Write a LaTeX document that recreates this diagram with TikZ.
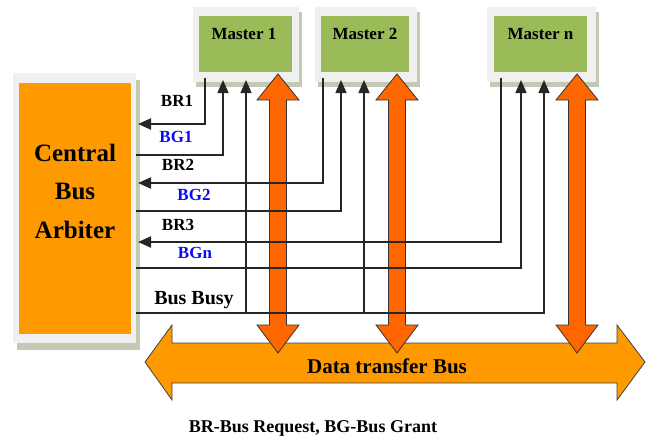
\documentclass[tikz,border=0pt]{standalone}
\usepackage{fontspec}
\setmainfont{Liberation Serif}
\usetikzlibrary{arrows.meta}
\definecolor{arbiterorange}{HTML}{FF9900}
\definecolor{mastergreen}{HTML}{9BBB59}
\definecolor{linkorange}{HTML}{FF6600}
\definecolor{framegray}{HTML}{F0F0F0}
\definecolor{shadowolive}{HTML}{C3C9B3}
\definecolor{grantblue}{HTML}{0A0AF5}

\begin{document}
\begin{tikzpicture}[x=1pt,y=-1pt,
  frame/.style={fill=framegray},
  shadowbox/.style={fill=shadowolive},
  mbox/.style={fill=mastergreen, minimum height=56pt, inner sep=0pt},
  mtext/.style={font=\fontsize{17}{18}\selectfont\bfseries, inner sep=0pt},
  sig/.style={line width=1.4pt, draw=black!85},
  reqline/.style={sig, line width=2pt},
  tip/.style={-{Triangle[length=13pt,width=11pt]}},
  lbl/.style={font=\fontsize{17}{18}\selectfont\bfseries, inner sep=0pt},
  grant/.style={lbl, text=grantblue},
  busarrow/.style={fill=arbiterorange, draw=black!75, line width=0.8pt},
  linkarrow/.style={fill=linkorange, draw=black!80, line width=0.8pt}]
\useasboundingbox (0,0) rectangle (648,439);

% --- frames with drop shadows
\fill[shadowbox] (17,80) rectangle (140,350);
\fill[frame] (13,73) rectangle (136,343);
\fill[shadowbox] (196,12) rectangle (302,87);
\fill[frame] (193,7) rectangle (299,82);
\fill[shadowbox] (318,12) rectangle (420,87);
\fill[frame] (315,7) rectangle (417,82);
\fill[shadowbox] (490,12) rectangle (599,87);
\fill[frame] (487,7) rectangle (596,82);

% --- arbiter
\node[fill=arbiterorange, minimum width=112pt, minimum height=251pt, inner sep=0pt] (arb) at (75,208.5) {};
\node[font=\fontsize{25}{38.5}\selectfont\bfseries, align=center, inner sep=0pt] (arbt) at (75,191) {Central\\Bus\\Arbiter};

% --- masters
\node[mbox, minimum width=93pt] (m1) at (245.5,44) {};
\node[mbox, minimum width=88pt] (m2) at (365,44) {};
\node[mbox, minimum width=93pt] (mn) at (540.5,44) {};
\node[mtext] (m1t) at (244,34) {Master 1};
\node[mtext] (m2t) at (365,34) {Master 2};
\node[mtext] (mnt) at (540.5,34) {Master n};

% --- data transfer bus
\filldraw[busarrow] (145,362) -- (172,325) -- (172,343) -- (617,343) -- (617,325)
  -- (645,362) -- (617,400) -- (617,383) -- (172,383) -- (172,400) -- cycle;
\node[font=\fontsize{21}{22}\selectfont\bfseries, inner sep=0pt] (bus) at (387,366) {Data transfer Bus};

% --- master to bus links
\foreach \cx in {278,397,577}{
  \filldraw[linkarrow] (\cx,74) -- (\cx+21,100) -- (\cx+8.5,100) -- (\cx+8.5,325)
    -- (\cx+21,325) -- (\cx,353) -- (\cx-21,325) -- (\cx-8.5,325) -- (\cx-8.5,100)
    -- (\cx-21,100) -- cycle;
}

% --- connection points at the masters
\coordinate (m1r) at (205,78);  \coordinate (m1g) at (223,80);  \coordinate (m1b) at (246,80);
\coordinate (m2r) at (323,78);  \coordinate (m2g) at (341,80);  \coordinate (m2b) at (364,80);
\coordinate (mnr) at (501,78);  \coordinate (mng) at (521,80);  \coordinate (mnb) at (544,80);
% --- connection points at the arbiter
\coordinate (r1) at (138,124);  \coordinate (g1) at (136,155);
\coordinate (r2) at (138,183);  \coordinate (g2) at (136,211);
\coordinate (r3) at (138,242);  \coordinate (g3) at (136,268);
\coordinate (bb) at (136,313);

% --- bus requests (master -> arbiter)
\draw[reqline, tip] (m1r) |- (r1);
\draw[reqline, tip] (m2r) |- (r2);
\draw[reqline, tip] (mnr) |- (r3);
% --- bus grants (arbiter -> master)
\draw[sig, tip] (g1) -| (m1g);
\draw[sig, tip] (g2) -| (m2g);
\draw[sig, tip] (g3) -| (mng);
% --- bus busy
\draw[sig, tip] (bb) -| (mnb);
\draw[sig, tip] (m1b |- bb) -- (m1b);
\draw[sig, tip] (m2b |- bb) -- (m2b);

% --- signal labels
\node[lbl] (br1) at (177,101) {BR1};
\node[grant] (bg1) at (176,137) {BG1};
\node[lbl] (br2) at (178,165) {BR2};
\node[grant] (bg2) at (194,195) {BG2};
\node[lbl] (br3) at (178,225) {BR3};
\node[grant] (bgn) at (195,253) {BGn};
\node[font=\fontsize{20}{21}\selectfont\bfseries, inner sep=0pt] (busy) at (194,300) {Bus Busy};

% --- legend
\node[font=\fontsize{18}{19}\selectfont\bfseries, inner sep=0pt] (legend) at (313,428) {BR-Bus Request, BG-Bus Grant};
\end{tikzpicture}
\end{document}
